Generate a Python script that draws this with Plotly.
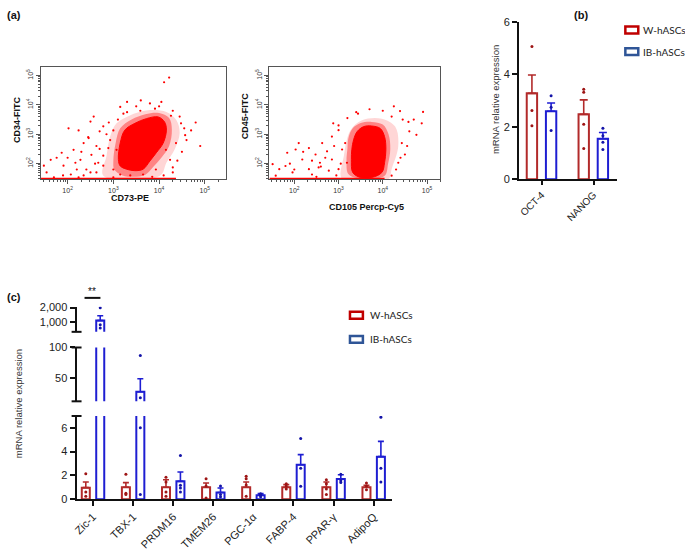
import numpy as np
import plotly.graph_objects as go

W, H = 685, 558
def PX(x): return x / W
def PY(y): return 1 - y / H

# ---------------- Panel (a): flow cytometry (log10 units) ----------------
cd73_core = [3.11, 3.15, 3.25, 3.47, 3.72, 3.98, 4.12, 4.16, 4.09, 3.94, 3.80, 3.65, 3.47, 3.29, 3.15]
cd34_core = [2.14, 2.70, 3.14, 3.37, 3.53, 3.59, 3.42, 3.14, 2.70, 2.37, 2.09, 1.81, 1.76, 1.81, 1.92]
cd73_mid = [3.00, 3.05, 3.15, 3.40, 3.70, 4.00, 4.22, 4.28, 4.22, 4.05, 3.88, 3.70, 3.45, 3.20, 3.02]
cd34_mid = [2.10, 2.70, 3.20, 3.50, 3.68, 3.72, 3.55, 3.15, 2.60, 2.20, 1.90, 1.62, 1.55, 1.60, 1.80]
cd73_halo = [2.78, 2.85, 2.93, 3.07, 3.36, 3.72, 4.16, 4.38, 4.45, 4.34, 4.16, 4.02]
cd34_halo = [1.59, 2.26, 2.92, 3.37, 3.64, 3.81, 3.76, 3.48, 3.03, 2.48, 2.03, 1.59]
cd73_events = [4.22, 4.11, 3.15, 3.59, 3.91, 4.26, 2.57, 2.50, 2.02, 2.24, 2.78, 3.00, 4.70, 4.57, 4.37,
               1.76, 1.63, 1.91, 2.13, 2.28, 2.35, 2.52, 2.63, 2.78, 2.93, 2.78, 2.41, 1.54, 2.07, 3.00,
               3.15, 3.65, 3.93, 4.24, 4.15, 3.07, 1.48, 2.63, 3.37, 2.35, 2.67, 2.89, 2.46, 2.17, 1.87,
               3.22, 4.48, 4.30, 1.70, 2.24, 3.00,
               2.90, 3.10, 3.30, 3.50, 3.80, 4.00, 4.30, 4.45, 4.55, 4.60, 4.50, 4.40, 4.30, 4.10, 3.85,
               2.70, 2.60, 2.50, 2.30, 2.20, 2.00, 1.90, 3.30, 3.60, 4.05, 4.80, 4.90, 2.85, 2.45, 2.70]
cd34_events = [4.93, 4.77, 3.93, 3.80, 3.87, 3.63, 3.60, 3.43, 3.20, 3.13, 3.27, 3.13, 3.13, 2.97, 2.70,
               2.20, 2.13, 1.93, 2.47, 2.13, 2.70, 2.30, 2.60, 2.27, 2.80, 1.93, 1.80, 1.70, 1.63, 1.80,
               1.63, 1.63, 1.80, 2.13, 2.47, 2.47, 1.93, 1.70, 1.60, 1.60, 2.03, 2.53, 2.87, 2.03, 2.37,
               3.70, 3.37, 1.87, 1.53, 1.53, 1.53,
               3.40, 3.50, 3.75, 3.95, 4.05, 3.95, 3.80, 3.60, 3.20, 2.80, 2.40, 2.10, 1.70, 1.60, 1.55,
               2.50, 2.00, 1.70, 2.40, 1.80, 2.20, 1.60, 4.10, 4.15, 4.10, 3.40, 2.60, 3.00, 2.90, 3.10]
cd73_floor = [1.41, 4.37]

cd105_core = [3.34, 3.42, 3.57, 3.75, 3.94, 4.04, 4.07, 4.04, 3.98, 3.75, 3.49, 3.32, 3.29, 3.30]
cd45_core = [2.81, 3.09, 3.26, 3.28, 3.20, 2.92, 2.48, 2.03, 1.70, 1.53, 1.53, 1.70, 2.14, 2.48]
cd105_mid = [3.22, 3.32, 3.50, 3.75, 4.00, 4.13, 4.17, 4.12, 4.05, 3.80, 3.45, 3.22, 3.18, 3.20]
cd45_mid = [2.85, 3.20, 3.38, 3.42, 3.33, 3.00, 2.50, 2.00, 1.60, 1.50, 1.50, 1.65, 2.10, 2.50]
cd105_halo = [3.08, 3.12, 3.27, 3.53, 3.98, 4.28, 4.35, 4.20, 4.13]
cd45_halo = [1.48, 2.26, 3.14, 3.48, 3.53, 3.26, 2.59, 1.81, 1.48]
cd105_events = [4.91, 4.39, 4.58, 4.76, 4.88, 4.43, 4.50, 4.35, 4.20, 2.03, 2.33, 2.48, 2.63, 2.85, 3.00,
                2.74, 2.85, 2.18, 1.80, 1.66, 1.96, 2.33, 2.55, 2.78, 3.00, 1.51, 1.58, 3.15, 3.08, 2.88,
                2.58, 3.19, 2.40, 3.44, 1.84,
                3.00, 3.20, 3.40, 3.70, 4.00, 4.20, 4.45, 4.60, 4.55, 4.40, 4.30, 2.90, 2.70, 2.60, 2.40,
                2.20, 2.00, 2.95, 2.50, 3.05, 4.70, 4.25, 2.10, 1.90]
cd45_events = [3.76, 3.79, 3.42, 2.98, 3.37, 2.70, 2.31, 2.03, 1.59, 2.48, 2.53, 2.31, 2.70, 2.92, 3.14,
               2.42, 2.14, 2.14, 1.92, 1.81, 1.70, 1.81, 1.87, 1.76, 1.81, 1.98, 1.59, 2.70, 2.48, 3.37,
               2.03, 2.03, 1.63, 3.70, 2.37,
               3.30, 3.55, 3.75, 3.85, 3.80, 3.60, 3.50, 3.10, 2.60, 2.20, 1.80, 2.60, 2.20, 1.90, 2.10,
               2.40, 1.80, 1.60, 1.55, 2.00, 3.50, 3.95, 2.70, 2.00]
cd105_floor = [1.44, 4.04]

flow_tickvals = [1e2, 1e3, 1e4, 1e5]
flow_ticktext = ["10<sup>2</sup>", "10<sup>3</sup>", "10<sup>4</sup>", "10<sup>5</sup>"]

# ---------------- Panel (b): pluripotency genes ----------------
pluri_genes = ["OCT-4", "NANOG"]
pluri_w_mean = [3.27, 2.47]
pluri_w_sem = [0.70, 0.55]
pluri_ib_mean = [2.59, 1.54]
pluri_ib_sem = [0.31, 0.24]
pluri_w_pts = [[5.05, 2.62, 2.04], [3.43, 3.31, 2.09, 1.17]]
pluri_ib_pts = [[3.18, 2.74, 1.85], [1.94, 1.65, 1.41, 1.13]]

# ---------------- Panel (c): brown / beige / adipogenic genes ----------------
brown_genes = ["Zic-1", "TBX-1", "PRDM16", "TMEM26", "PGC-1α", "FABP-4", "PPAR-γ", "AdipoQ"]
w_mean = [0.97, 1.0, 1.0, 1.0, 1.0, 1.0, 1.0, 1.0]
w_sem = [0.47, 0.39, 0.64, 0.36, 0.44, 0.22, 0.44, 0.17]
ib_mean = [1080, 27, 1.5, 0.56, 0.33, 2.89, 1.69, 3.58]
ib_sem = [340, 21.4, 0.78, 0.38, 0.14, 0.86, 0.37, 1.28]
w_pts = [[2.14, 0.6, 0.25], [2.1, 0.5, 0.4], [1.85, 1.45, 0.6, 0.25], [1.72, 1.1, 0.1],
         [1.92, 1.72, 1.2, 0.25], [1.3, 1.1, 0.85], [1.64, 1.3, 0.85, 0.4], [1.36, 1.1, 0.8]]
ib_pts = [[2000, 780, 560], [87, 17, 6.0, 0.4], [3.67, 1.17, 0.94, 0.6], [1.11, 0.4, 0.2],
          [0.45, 0.35, 0.2], [5.1, 2.6, 1.08], [2.1, 1.55, 1.4], [6.9, 2.6, 1.44]]

W_COL = "#B22A2A"
W_DOT = "#9E1515"
IB_COL = "#1E1ED2"
IB_DOT = "#1414A8"
FLOW_RED = "#FF0000"
AX = "#111111"
FONT = "Liberation Sans, Arial, sans-serif"

fig = go.Figure()

# ---------- Flow plots ----------
def add_flow(xa, ya, cx, cy, mx, my, hx, hy, ex, ey, floor, ybot):
    p = lambda v: list(10 ** np.array(v))
    fig.add_trace(go.Scatter(x=p(hx + [hx[0]]), y=p(hy + [hy[0]]), mode="lines", fill="toself",
                             fillcolor="rgba(255,0,0,0.16)", line=dict(width=0, shape="spline"),
                             xaxis=xa, yaxis=ya, hoverinfo="skip"))
    fig.add_trace(go.Scatter(x=p(mx + [mx[0]]), y=p(my + [my[0]]), mode="lines", fill="toself",
                             fillcolor="rgba(255,0,0,0.38)", line=dict(width=0, shape="spline"),
                             xaxis=xa, yaxis=ya, hoverinfo="skip"))
    fig.add_trace(go.Scatter(x=p(cx + [cx[0]]), y=p(cy + [cy[0]]), mode="lines", fill="toself",
                             fillcolor=FLOW_RED, line=dict(color=FLOW_RED, width=1, shape="spline"),
                             xaxis=xa, yaxis=ya, hoverinfo="skip"))
    fig.add_trace(go.Scatter(x=p(ex), y=p(ey), mode="markers",
                             marker=dict(color=FLOW_RED, size=2.2), xaxis=xa, yaxis=ya))
    fig.add_trace(go.Scatter(x=p(floor), y=p([ybot, ybot]), mode="lines",
                             line=dict(color=FLOW_RED, width=1.6), xaxis=xa, yaxis=ya))

add_flow("x", "y", cd73_core, cd34_core, cd73_mid, cd34_mid, cd73_halo, cd34_halo,
         cd73_events, cd34_events, cd73_floor, 1.49)
add_flow("x2", "y2", cd105_core, cd45_core, cd105_mid, cd45_mid, cd105_halo, cd45_halo,
         cd105_events, cd45_events, cd105_floor, 1.49)

minor_vals = [k * 10 ** n for n in range(1, 6) for k in range(2, 10)]

def flow_axis(dom, rng, is_y):
    d = dict(type="log", domain=dom, range=rng, showgrid=False, zeroline=False,
             showline=True, mirror=True, linecolor="#555", linewidth=1,
             ticks="outside", ticklen=4, tickwidth=1, tickcolor="#555",
             tickmode="array", tickvals=flow_tickvals, ticktext=flow_ticktext,
             tickfont=dict(family=FONT, size=7, color="#333"),
             minor=dict(ticks="outside", ticklen=2, tickwidth=1, tickcolor="#555",
                        tickmode="array", tickvals=minor_vals, showgrid=False))
    if is_y:
        d["tickangle"] = -90
    return d

ydom_flow = [PY(177), PY(62)]
fig.update_layout(
    xaxis=dict(**flow_axis([PX(37), PX(223)], [1.413, 5.457], False), anchor="y"),
    yaxis=dict(**flow_axis(ydom_flow, [1.47, 5.30], True), anchor="x"),
    xaxis2=dict(**flow_axis([PX(267), PX(439)], [1.438, 5.303], False), anchor="y2"),
    yaxis2=dict(**flow_axis(ydom_flow, [1.47, 5.30], True), anchor="x2"),
)

# ---------- Panel (b) ----------
def flat(pts, off):
    xs, ys = [], []
    for i, pl in enumerate(pts):
        xs += [i + off] * len(pl)
        ys += pl
    return xs, ys

def add_bars(xa, ya, n, mean, sem, pts, off, width, col, dot, cap):
    xs = list(range(n))
    fig.add_trace(go.Bar(x=xs, y=mean, offset=off, width=width, xaxis=xa, yaxis=ya,
                         marker=dict(color="rgba(255,255,255,0)", line=dict(color=col, width=2)),
                         error_y=dict(type="data", symmetric=False, array=sem,
                                      arrayminus=[0] * n, color=col, thickness=1.6, width=cap)))
    px_, py_ = flat(pts, off + width / 2)
    fig.add_trace(go.Scatter(x=px_, y=py_, mode="markers", xaxis=xa, yaxis=ya,
                             marker=dict(color=dot, size=3)))

add_bars("x3", "y3", 2, pluri_w_mean, pluri_w_sem, pluri_w_pts, -0.29, 0.2, W_COL, W_DOT, 4)
add_bars("x3", "y3", 2, pluri_ib_mean, pluri_ib_sem, pluri_ib_pts, 0.08, 0.2, IB_COL, IB_DOT, 4)

fig.update_layout(
    xaxis3=dict(domain=[PX(518), PX(617)], range=[-0.44, 1.46], anchor="y3",
                showgrid=False, zeroline=False, showline=True, linecolor=AX, linewidth=2,
                ticks="outside", ticklen=4, tickwidth=2, tickcolor=AX,
                tickmode="array", tickvals=[0, 1], ticktext=pluri_genes, tickangle=-45,
                tickfont=dict(family=FONT, size=10, color="#222")),
    yaxis3=dict(domain=[PY(177), PY(16)], range=[0, 6], anchor="x3",
                showgrid=False, zeroline=False, showline=True, linecolor=AX, linewidth=2,
                ticks="outside", ticklen=5, tickwidth=2, tickcolor=AX,
                tickmode="array", tickvals=[0, 2, 4, 6],
                tickfont=dict(family=FONT, size=11, color="#222")),
)

# ---------- Panel (c): broken axis in three segments ----------
for ya in ["y4", "y5", "y6"]:
    add_bars("x4", ya, 8, w_mean, w_sem, w_pts, -0.28, 0.2, W_COL, W_DOT, 3)
    add_bars("x4", ya, 8, ib_mean, ib_sem, ib_pts, 0.08, 0.2, IB_COL, IB_DOT, 3)

seg_common = dict(showgrid=False, zeroline=False, showline=True, linecolor=AX, linewidth=2,
                  ticks="outside", ticklen=5, tickwidth=2, tickcolor=AX, anchor="x4",
                  tickfont=dict(family=FONT, size=11, color="#222"), tickmode="array")
fig.update_layout(
    xaxis4=dict(domain=[PX(73), PX(390)], range=[-0.41, 7.45], anchor="y4",
                showgrid=False, zeroline=False, showline=True, linecolor=AX, linewidth=2,
                ticks="outside", ticklen=5, tickwidth=2, tickcolor=AX,
                tickmode="array", tickvals=list(range(8)), ticktext=brown_genes, tickangle=-45,
                tickfont=dict(family=FONT, size=11, color="#222")),
    yaxis4=dict(domain=[PY(504), PY(419)], range=[0, 7], tickvals=[0, 2, 4, 6], **seg_common),
    yaxis5=dict(domain=[PY(404), PY(349)], range=[11.3, 100], tickvals=[50, 100], **seg_common),
    yaxis6=dict(domain=[PY(333), PY(307.4)], range=[285, 2060], tickvals=[1000, 2000],
                ticktext=["1,000", "2,000"], **seg_common),
)

shapes = []
for yc in [419, 404, 349, 333]:
    shapes.append(dict(type="line", xref="paper", yref="paper", x0=PX(68), x1=PX(78),
                       y0=PY(yc), y1=PY(yc), line=dict(color=AX, width=2)))
# significance bar
shapes.append(dict(type="line", xref="paper", yref="paper", x0=PX(81), x1=PX(97),
                   y0=PY(298.3), y1=PY(298.3), line=dict(color=AX, width=2)))
# legend boxes
for (x0, yc, col) in [(624, 24.5, "#C00000"), (624, 46.7, "#2F5597"),
                      (347, 316, "#C00000"), (347, 340.7, "#2F5597")]:
    shapes.append(dict(type="rect", xref="paper", yref="paper", x0=PX(x0 + 1), x1=PX(x0 + 14),
                       y0=PY(yc + 3.5), y1=PY(yc - 3.5), line=dict(color=col, width=2.5),
                       fillcolor="white"))

ann = []
def A(text, x, y, size, bold=False, angle=0, color="#111", xanchor="center", family=FONT):
    ann.append(dict(text=("<b>%s</b>" % text) if bold else text, x=PX(x), y=PY(y),
                    xref="paper", yref="paper", showarrow=False, textangle=angle,
                    xanchor=xanchor, yanchor="middle",
                    font=dict(family=family, size=size, color=color)))

A("(a)", 10, 9, 11, bold=True)
A("(b)", 580, 9, 11, bold=True)
A("(c)", 10, 297, 11, bold=True)
A("CD34-FITC", 12.5, 116, 9, bold=True, angle=-90)
A("CD73-PE", 127, 196, 9, bold=True)
A("CD45-FITC", 242, 112, 9, bold=True, angle=-90)
A("CD105 Percp-Cy5", 365, 205, 9, bold=True)
A("mRNA relative expression", 495, 96, 9.5, angle=-90, color="#333")
A("mRNA relative expression", 14, 406, 9.5, angle=-90, color="#333")
A("**", 89, 292, 10)
for (x, y, t) in [(641, 24.5, "W-hASCs"), (641, 46.7, "IB-hASCs"),
                  (366, 316, "W-hASCs"), (366, 340.7, "IB-hASCs")]:
    A(t, x, y, 10, xanchor="left", color="#222", family="Lato, Liberation Sans, sans-serif")

fig.update_layout(width=W, height=H, margin=dict(l=0, r=0, t=0, b=0),
                  paper_bgcolor="white", plot_bgcolor="rgba(0,0,0,0)",
                  showlegend=False, barmode="overlay", shapes=shapes, annotations=ann)

fig.write_html("out.html", config={"displayModeBar": False},
               post_script="document.body.style.margin='0px';")
